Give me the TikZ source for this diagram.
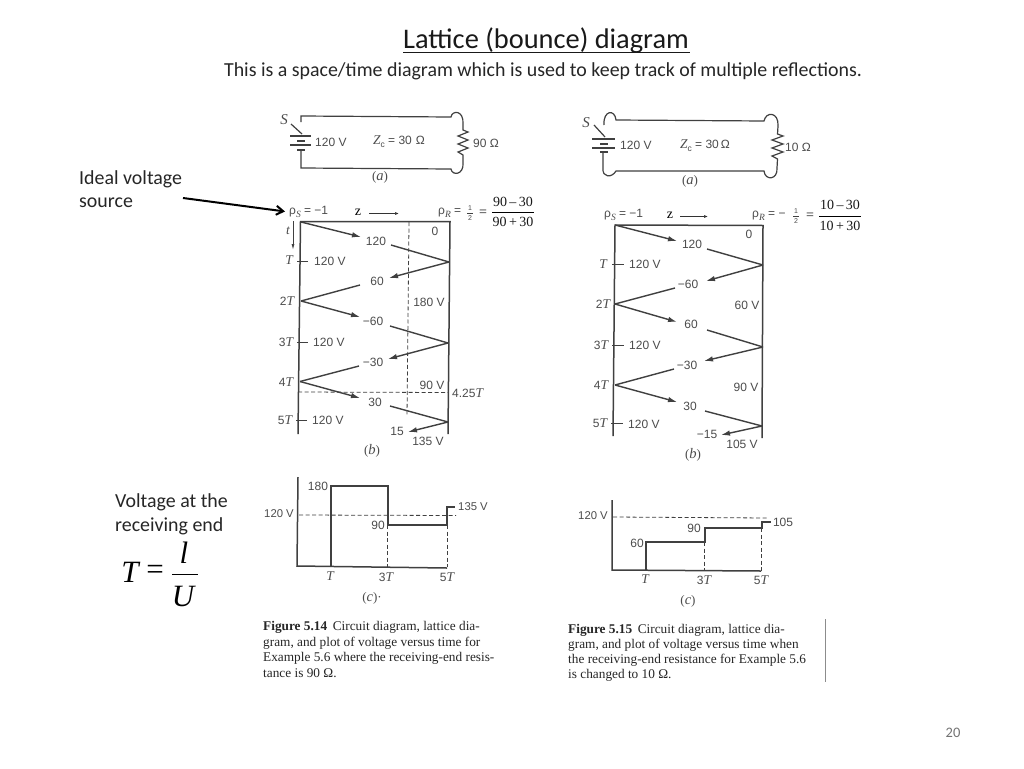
\documentclass[tikz,border=0pt]{standalone}
\usepackage{fontspec}
\usetikzlibrary{arrows.meta}
\setmainfont{Carlito}
\newfontfamily\labfont{Liberation Sans}
\newfontfamily\serfont{Liberation Serif}
\newfontfamily\tifont[Scale=1.12]{Liberation Serif}
\definecolor{scan}{gray}{0.25}
\definecolor{scantext}{gray}{0.30}
\newcommand{\Ti}[1]{{\tifont\itshape #1}}
\newcommand{\sub}[1]{\raisebox{-0.25em}{\fontsize{8.5}{9}\selectfont #1}}
\tikzset{
  x=1pt,y=-1pt,
  slide/.style={inner sep=0,text=black!85,font=\fontsize{19.9}{22}\selectfont},
  lab/.style={inner sep=0,text=scantext,font=\labfont\fontsize{12}{13}\selectfont},
  small lab/.style={lab,font=\labfont\fontsize{11.3}{12}\selectfont},
  part lab/.style={lab,font=\serfont\fontsize{13}{14}\selectfont},
  half/.style={lab,font=\labfont\fontsize{7}{7}\selectfont},
  caption/.style={inner sep=0,anchor=west,text=black!85,font=\serfont\fontsize{13.3}{15}\selectfont},
  frac/.style={inner sep=0,text=black!90,font=\serfont\fontsize{14}{15}\selectfont},
  wire/.style={draw=scan,line width=1.2pt},
  lat/.style={draw=scan,line width=1.5pt},
  ray/.style={draw=scan,line width=1.4pt},
  arr/.style={draw=scan,line width=1.4pt,-{Latex[length=9pt,width=5.5pt]}},
  guide/.style={draw=scan,line width=0.8pt,dash pattern=on 4pt off 2.5pt},
  plotline/.style={draw=scan,line width=1.5pt},
  thin arr/.style={draw=black!80,line width=0.7pt,-{Latex[length=4pt,width=3pt]}},
}
\begin{document}
\begin{tikzpicture}
\useasboundingbox (0,0) rectangle (1024,768);
\fill[white] (0,0) rectangle (1024,768);

% ---- slide text
\node[inner sep=0,text=black!90,font=\fontsize{28.4}{30}\selectfont] (title) at (546,41) {Lattice (bounce) diagram};
\draw[black!90,line width=1pt] (403,52.5) -- (690,52.5);
\node[slide] (subtitle) at (543,71) {This is a space/time diagram which is used to keep track of multiple reflections.};
\node[slide,anchor=west] (ideal1) at (79,179) {Ideal voltage};
\node[slide,anchor=west] (ideal2) at (79,203) {source};
\node[slide,anchor=west] (volt1) at (115,502) {Voltage at the};
\node[slide,anchor=west] (volt2) at (115,526) {receiving end};
\node[inner sep=0,font=\serfont\itshape\fontsize{31}{32}\selectfont] (bigT) at (130,572) {T};
\node[inner sep=0,font=\serfont\fontsize{31}{32}\selectfont] (bigeq) at (155,572) {=};
\node[inner sep=0,font=\serfont\itshape\fontsize{31}{32}\selectfont] (bigl) at (184,553) {l};
\node[inner sep=0,font=\serfont\itshape\fontsize{31}{32}\selectfont] (bigU) at (183,596) {U};
\draw[black,line width=0.9pt] (172,574) -- (198,574);
\node[inner sep=0,text=black!55,font=\fontsize{14.5}{16}\selectfont] (page) at (953,733) {20};

% ---- LEFT: circuit
\coordinate (ltl) at (301,116);
\coordinate (ltr) at (451,117);
\coordinate (lrt) at (463,130);
\coordinate (lrb) at (463,155);
\coordinate (lbr) at (451,169);
\coordinate (lbl) at (301,168);
\draw[wire] (301,122) -- (ltl) -- (ltr) .. controls (452,110) and (464,110) .. (463,124) -- (lrt)
  -- (468,132) -- (458,136) -- (468,140) -- (458,144) -- (468,148) -- (458,152) -- (lrb) -- (463,163)
  .. controls (464,175) and (452,176) .. (lbr) -- (lbl) -- (301,150);
\draw[wire] (291,124) -- (302,134);
\draw[wire] (290,136) -- (311,136) (297,141) -- (305,141) (290,145) -- (311,145) (297,150) -- (305,150);
\node[lab,font=\serfont\itshape\fontsize{15}{16}\selectfont] (ls) at (284,120) {S};
\node[lab,anchor=west] (lv) at (315,142) {120 V};
\node[lab] (lz) at (399,142) {\Ti{Z}\sub{c} = 30\,\,Ω};
\node[lab,anchor=west] (lr) at (473,143) {90 Ω};
\node[part lab] (la) at (380,177) {(\Ti{a})};

% ---- LEFT: lattice
\coordinate (L0) at (301,222);
\coordinate (R1) at (449,262);
\coordinate (L2) at (301,301);
\coordinate (R3) at (448,343);
\coordinate (L4) at (300,381.5);
\coordinate (R5) at (448,422);
\draw[lat] (298,434) -- (300.5,221.5) -- (450,221.5) -- (448,434);
\draw[guide] (409,222) -- (407,416);
\draw[guide] (298,392) -- (448,392.5);
\draw[arr] (L0) -- (361,237);
\draw[ray] (391,245) -- (R1);
\draw[arr] (R1) -- (389,278);
\draw[ray] (360,285) -- (L2);
\draw[arr] (L2) -- (360,317);
\draw[ray] (390,326) -- (R3);
\draw[arr] (R3) -- (388,359);
\draw[ray] (359,366) -- (L4);
\draw[arr] (L4) -- (360,398);
\draw[ray] (390,406) -- (R5);
\draw[arr] (R5) -- (408,432);
\node[lab] (l120) at (376,241) {120};
\node[lab] (l60) at (377,281) {60};
\node[lab] (lm60) at (373,321) {−60};
\node[lab] (lm30) at (373,362) {−30};
\node[lab] (l30) at (375,402) {30};
\node[lab] (l15) at (397,431) {15};
\node[lab] (l0) at (435,231) {0};
\node[lab] (l180v) at (429,302) {180 V};
\node[lab] (l90v) at (432,385) {90 V};
\node[lab,anchor=west] (l425) at (452,393) {4.25\Ti{T}};
\node[lab] (l135v) at (428,441) {135 V};
\node[part lab] (lb) at (372,451) {(\Ti{b})};
\draw[ray,line width=0.9pt] (297,261) -- (308,261) (297,342) -- (308,342) (296,420) -- (307,420);
\node[lab] (lT1) at (289,260) {\Ti{T}};
\node[lab] (lT2) at (287,301) {2\Ti{T}};
\node[lab] (lT3) at (286,342) {3\Ti{T}};
\node[lab] (lT4) at (286,382) {4\Ti{T}};
\node[lab] (lT5) at (285,420) {5\Ti{T}};
\node[lab,anchor=west] (lsv1) at (314,261) {120 V};
\node[lab,anchor=west] (lsv3) at (313,342) {120 V};
\node[lab,anchor=west] (lsv5) at (312,420) {120 V};
\node[lab] (lt) at (288,231) {\Ti{t}};
\coordinate (ltA) at (293,221);
\coordinate (ltB) at (293,250);
\draw[draw=scan,line width=0.9pt,-{Latex[length=6pt,width=3pt]}] (ltA) -- (ltB);
\node[lab,anchor=west] (lrhoS) at (289,212) {ρ\sub{\Ti{S}} = −1};
\node[inner sep=0,text=black,font=\serfont\fontsize{14}{15}\selectfont] (lzz) at (358,212) {z};
\coordinate (lzA) at (369,213.5);
\coordinate (lzB) at (399,213.5);
\draw[thin arr] (lzA) -- (lzB);
\node[lab,anchor=west] (lrhoR) at (438,213) {ρ\sub{\Ti{R}} =};
\node[half] (lhalf1) at (470,208) {1};
\node[half] (lhalf2) at (470,218) {2};
\draw[scan,line width=0.6pt] (467,213) -- (473,213);
\node[frac] (leq) at (483,213) {=};
\node[frac] (lnum) at (513,202) {90\,–\,30};
\node[frac] (lden) at (513,222) {90\,+\,30};
\draw[black,line width=0.6pt] (492,212) -- (534,212);
\coordinate (ideal) at (183,198);
\draw[black,line width=2pt,shorten >=4pt,-{Straight Barb[length=7pt,width=9pt]}] (ideal) -- (lrhoS.west);

% ---- LEFT: plot
\draw[plotline] (298,477) -- (297,566) -- (447,568);
\draw[plotline] (331,567) -- (331,486) -- (388,486) -- (388,525) -- (447,525) -- (447,507) -- (455,507);
\draw[guide] (299,515) -- (456,515.5);
\draw[guide] (387,525) -- (387,567);
\draw[guide] (447,525) -- (447,567);
\node[lab] (p180) at (318,486) {180};
\node[small lab] (p120) at (279,514) {120 V};
\node[lab] (p90) at (378,525) {90};
\node[small lab] (p135) at (473,507) {135 V};
\node[lab] (pT1) at (330,576) {\Ti{T}};
\node[lab] (pT3) at (386,577) {3\Ti{T}};
\node[lab] (pT5) at (447,577) {5\Ti{T}};
\node[part lab] (pc) at (372,598) {(\Ti{c})·};
\node[caption] (lc1) at (263,627) {\textbf{Figure 5.14}\, Circuit diagram, lattice dia-};
\node[caption] (lc2) at (263,643) {gram, and plot of voltage versus time for};
\node[caption] (lc3) at (263,658) {Example 5.6 where the receiving-end resis-};
\node[caption] (lc4) at (263,673) {tance is 90 Ω.};

% ---- RIGHT: circuit
\coordinate (rtl) at (616,120);
\coordinate (rtr) at (764,121);
\coordinate (rrt) at (777.5,134);
\coordinate (rrb) at (777.5,159);
\coordinate (rbr) at (764,171);
\coordinate (rbl) at (616,171);
\draw[wire] (604,125) .. controls (603,110) and (615,109) .. (rtl) -- (rtr)
  .. controls (766,111) and (779,112) .. (778,126) -- (rrt)
  -- (783,136) -- (772,140) -- (783,144) -- (772,148) -- (783,152) -- (772,156) -- (rrb) -- (777,168)
  .. controls (778,180) and (765,181) .. (rbr) -- (rbl)
  .. controls (612,178) and (602,178) .. (603,168) -- (603,152);
\draw[wire] (594,125) -- (605,137);
\draw[wire] (592,139) -- (615,139) (600,144) -- (608,144) (592,148) -- (615,148) (600,152) -- (608,152);
\node[lab,font=\serfont\itshape\fontsize{15}{16}\selectfont] (rs) at (586,123) {S};
\node[lab,anchor=west] (rv) at (620,145) {120 V};
\node[lab] (rz) at (705,146) {\Ti{Z}\sub{c} = 30\,Ω};
\node[lab,anchor=west] (rr) at (785,147) {10 Ω};
\node[part lab] (ra) at (690,181) {(\Ti{a})};

% ---- RIGHT: lattice
\coordinate (l0) at (615,225);
\coordinate (r1) at (763,265);
\coordinate (l2) at (615,304);
\coordinate (r3) at (763,347);
\coordinate (l4) at (615,385);
\coordinate (r5) at (762,426);
\draw[lat] (613,436) -- (615,225) -- (763,225.5) -- (762,438);
\draw[arr] (l0) -- (677,241);
\draw[ray] (707,249) -- (r1);
\draw[arr] (r1) -- (706,281);
\draw[ray] (675,288) -- (l2);
\draw[arr] (l2) -- (677,322);
\draw[ray] (707,330) -- (r3);
\draw[arr] (r3) -- (704,361);
\draw[ray] (674,369) -- (l4);
\draw[arr] (l4) -- (677,402);
\draw[ray] (705,411) -- (r5);
\draw[arr] (r5) -- (721,435);
\node[lab] (r120) at (692,244) {120};
\node[lab] (rm60) at (688,284) {−60};
\node[lab] (r60) at (691,324) {60};
\node[lab] (rm30) at (687,365) {−30};
\node[lab] (r30) at (690,406) {30};
\node[lab] (rm15) at (707,434) {−15};
\node[lab] (r0) at (749,234) {0};
\node[lab] (r60v) at (747,305) {60 V};
\node[lab] (r90v) at (746,387) {90 V};
\node[lab] (r105v) at (742,444) {105 V};
\node[part lab] (rb) at (693,455) {(\Ti{b})};
\draw[ray,line width=0.9pt] (612,264) -- (624,264) (612,345) -- (624,345) (611,423) -- (623,423);
\node[lab] (rT1) at (603,264) {\Ti{T}};
\node[lab] (rT2) at (603,304) {2\Ti{T}};
\node[lab] (rT3) at (601,345) {3\Ti{T}};
\node[lab] (rT4) at (601,385) {4\Ti{T}};
\node[lab] (rT5) at (600,423) {5\Ti{T}};
\node[lab,anchor=west] (rsv1) at (629,264) {120 V};
\node[lab,anchor=west] (rsv3) at (629,345) {120 V};
\node[lab,anchor=west] (rsv5) at (628,424) {120 V};
\node[lab,anchor=west] (rrhoS) at (604,215) {ρ\sub{\Ti{S}} = −1};
\node[inner sep=0,text=black,font=\serfont\fontsize{14}{15}\selectfont] (rzz) at (670,215) {z};
\coordinate (rzA) at (680,216.5);
\coordinate (rzB) at (708,216.5);
\draw[thin arr] (rzA) -- (rzB);
\node[lab,anchor=west] (rrhoR) at (752,216) {ρ\sub{\Ti{R}} = −};
\node[half] (rhalf1) at (796,211) {1};
\node[half] (rhalf2) at (796,221) {2};
\draw[scan,line width=0.6pt] (793,216) -- (799,216);
\node[frac] (req) at (810,216) {=};
\node[frac] (rnum) at (840,205) {10\,–\,30};
\node[frac] (rden) at (840,226) {10\,+\,30};
\draw[black,line width=0.6pt] (819,216) -- (861,216);

% ---- RIGHT: plot
\draw[plotline] (612,500) -- (612,570) -- (761,571);
\draw[plotline] (646,570) -- (646,542) -- (705,542) -- (705,528) -- (762,528) -- (762,522) -- (771,522);
\draw[guide] (613,517) -- (768,518);
\draw[guide] (704,542) -- (704,570);
\draw[guide] (761,528) -- (761,571);
\node[small lab] (q120) at (593,516) {120 V};
\node[lab] (q60) at (637,543) {60};
\node[lab] (q90) at (694,528) {90};
\node[lab] (q105) at (783,522) {105};
\node[lab] (qT1) at (645,579) {\Ti{T}};
\node[lab] (qT3) at (704,580) {3\Ti{T}};
\node[lab] (qT5) at (761,580) {5\Ti{T}};
\node[part lab] (qc) at (688,601) {(\Ti{c})};
\node[caption] (rc1) at (568,630) {\textbf{Figure 5.15}\, Circuit diagram, lattice dia-};
\node[caption] (rc2) at (568,645) {gram, and plot of voltage versus time when};
\node[caption] (rc3) at (568,660) {the receiving-end resistance for Example 5.6};
\node[caption] (rc4) at (568,675) {is changed to 10 Ω.};
\draw[black!45,line width=0.8pt] (825,619) -- (825,682);
\end{tikzpicture}
\end{document}
